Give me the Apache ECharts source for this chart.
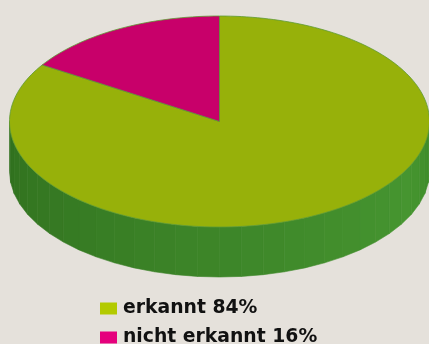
<!DOCTYPE html>
<html>
<head>
<meta charset="utf-8">
<style>
  html, body { margin: 0; padding: 0; background: #e5e1db; }
  #chart { width: 429px; height: 344px; }
</style>
<script src="https://cdn.jsdelivr.net/npm/echarts@6/dist/echarts.min.js"></script>
</head>
<body>
<div id="chart"></div>
<script>
// Share of answers
const categories = ['erkannt', 'nicht erkannt'];
const values = [84, 16];

// Slice colours (top face) and legend swatch colours
const topColors = ['#97b10a', '#c8006a'];
const legendColors = ['#b3ca00', '#e5007d'];

// Geometry of the tilted disc
const CX = 219.5, CY = 121.5, RX = 210, RY = 105.5, DEPTH = 50;
const START_DEG = 90; // slices run clockwise from 12 o'clock

const total = values.reduce((a, b) => a + b, 0);
const starts = [];
values.reduce((acc, v, i) => { starts[i] = acc; return acc + v; }, 0);

function pt(deg, dy) {
  const r = deg * Math.PI / 180;
  return [CX + RX * Math.cos(r), CY - RY * Math.sin(r) + (dy || 0)];
}

function lerpColor(a, b, t) {
  const pa = [1, 3, 5].map(i => parseInt(a.substr(i, 2), 16));
  const pb = [1, 3, 5].map(i => parseInt(b.substr(i, 2), 16));
  const c = pa.map((v, i) => Math.round(v + (pb[i] - v) * t));
  return 'rgb(' + c.join(',') + ')';
}

// Side wall shade along the front rim, left (180°) to right (360°)
function wallColor(deg) {
  let d = ((deg % 360) + 360) % 360;
  const t = (d - 180) / 180;
  if (t < 0.85) return lerpColor('#30701e', '#469530', t / 0.85);
  return lerpColor('#469530', '#3d8a28', (t - 0.85) / 0.15);
}

function renderSlice(params, api) {
  const idx = params.seriesIndex;
  const startVal = api.value(0);
  const val = api.value(1);
  const a0 = START_DEG - startVal / total * 360;
  const a1 = START_DEG - (startVal + val) / total * 360;
  const children = [];

  // Top face
  const steps = Math.max(8, Math.ceil((a0 - a1) / 1.5));
  const topPts = [[CX, CY]];
  for (let i = 0; i <= steps; i++) topPts.push(pt(a0 + (a1 - a0) * i / steps));
  children.push({
    type: 'polygon',
    z2: 10 + idx,
    shape: { points: topPts },
    style: { fill: topColors[idx], stroke: '#5e9a34', lineWidth: 0.8 }
  });

  // Front wall facets: only the part facing the viewer (180°..360°)
  const FACET = 6;
  for (let k = -180; k < 0; k += FACET) {
    const lo = Math.max(k, a1), hi = Math.min(k + FACET, a0);
    if (hi <= lo) continue;
    const p1 = pt(lo), p2 = pt(hi);
    const col = wallColor((lo + hi) / 2);
    children.push({
      type: 'polygon',
      z2: 1,
      shape: { points: [p1, p2, [p2[0], p2[1] + DEPTH], [p1[0], p1[1] + DEPTH]] },
      style: { fill: col, stroke: col, lineWidth: 0.6 }
    });
  }
  return { type: 'group', children: children };
}

const chart = echarts.init(document.getElementById('chart'), null, { renderer: 'canvas' });

chart.setOption({
  backgroundColor: '#e5e1db',
  animation: false,
  legend: {
    orient: 'vertical',
    left: 95,
    top: 299,
    height: 50,
    padding: [0, 5, 0, 5],
    itemWidth: 17,
    itemHeight: 12,
    itemGap: 10,
    icon: 'rect',
    data: categories.map((c, i) => ({ name: c, itemStyle: { color: legendColors[i] } })),
    formatter: name => name + ' ' + values[categories.indexOf(name)] + '%',
    textStyle: {
      fontFamily: '"DejaVu Sans", sans-serif',
      fontWeight: 'bold',
      fontSize: 18.8,
      color: '#111111',
      padding: [0, 0, 0, 1]
    }
  },
  series: categories.map((c, i) => ({
    type: 'custom',
    name: c,
    coordinateSystem: 'none',
    renderItem: renderSlice,
    itemStyle: { color: legendColors[i] },
    data: [[starts[i], values[i]]]
  }))
});
</script>
</body>
</html>
